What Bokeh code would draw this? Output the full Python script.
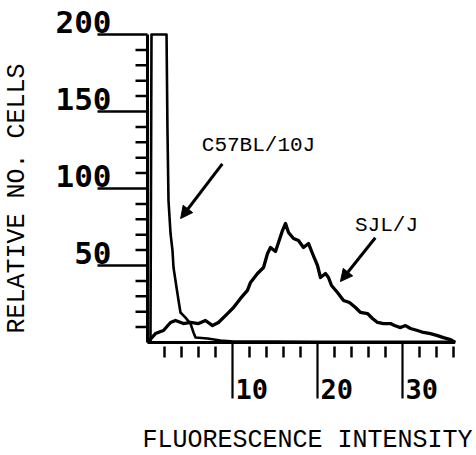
import math
from bokeh.plotting import figure
from bokeh.models import Arrow, NormalHead, Range1d
from bokeh.core.properties import value
from bokeh.embed import file_html
from bokeh.resources import INLINE

# ---- data ----
sjl_x = [0.0, 0.94, 1.88, 2.71, 3.29, 4.24, 5.06, 6.0, 6.82, 7.65, 8.35, 9.41, 10.12,
         10.94, 11.76, 12.12, 12.94, 13.65, 14.12, 14.47, 15.06, 15.41, 15.88, 16.24,
         16.59, 17.18, 17.76, 18.35, 18.94, 19.41, 20.0, 20.35, 20.94, 21.29, 21.65,
         22.35, 23.06, 23.76, 24.47, 25.06, 25.88, 26.47, 27.06, 27.76, 28.59, 29.06,
         29.76, 30.35, 30.94, 31.76, 32.47, 33.29, 34.12, 34.82, 35.65, 36.2]
sjl_y = [0.0, 5.8, 7.8, 13.0, 14.3, 12.3, 13.0, 12.3, 14.3, 11.0, 13.0, 18.8, 22.7,
         28.6, 33.8, 39.0, 44.8, 48.7, 57.8, 61.7, 59.1, 64.9, 72.7, 77.3,
         71.4, 67.5, 66.2, 61.7, 64.3, 57.8, 50.0, 42.2, 44.8, 42.2, 37.0,
         32.5, 27.3, 26.0, 22.7, 19.5, 18.8, 15.6, 13.0, 12.3, 12.3, 11.0,
         9.7, 11.0, 9.1, 7.8, 6.5, 5.8, 4.5, 3.2, 1.9, 0.0]

c57_x = [0.35, 0.47, 1.9, 2.24, 2.35, 2.47, 2.71, 2.94, 3.06, 3.29, 3.65, 3.88, 4.47,
         5.06, 5.41, 5.65, 7.06, 8.59, 10.1, 15.0, 20.0, 25.0, 30.0, 36.2]
c57_y = [0.0, 200.0, 200.0, 200.0, 137.7, 92.2, 70.8, 59.7, 48.7, 40.3, 27.3, 19.5, 16.2,
         12.3, 6.5, 3.2, 2.6, 1.3, 0.6, 0.6, 0.5, 0.5, 0.5, 0.5]

y_major = [50, 100, 150, 200]
y_minor = [10, 20, 30, 40, 60, 70, 80, 90, 110, 120, 130, 140, 160, 170, 180, 190]
y_labels = ["50", "100", "150", "200"]
x_major = [10, 20, 30]
x_minor = [2, 4, 6, 8, 12, 14, 16, 18, 22, 24, 26, 28, 32, 34, 36]
x_labels = ["10", "20", "30"]
x_max = 36.2
y_max = 200

x_title = "FLUORESCENCE INTENSITY"
y_title = "RELATIVE NO. CELLS"
series_names = ["C57BL/10J", "SJL/J"]

# ---- layout constants (pixels) ----
W, H = 476, 455
OX, OY = 147, 342      # pixel position of the data origin
SX, SY = 8.5, 1.54     # pixels per data unit


def dx(px):
    return (px - OX) / SX


def dy(py):
    return (OY - py) / SY


p = figure(width=W, height=H, output_backend="svg", toolbar_location=None,
           x_range=Range1d(dx(0), dx(W)), y_range=Range1d(dy(H), dy(0)),
           x_axis_type=None, y_axis_type=None, min_border=0)
p.outline_line_color = None
p.grid.visible = False
p.background_fill_color = "white"
p.border_fill_color = "white"

# axes lines
p.line([0, x_max], [0, 0], line_width=3, color="black")
p.line([0, 0], [0, y_max], line_width=3, color="black")

# ticks
p.segment(x0=[0] * len(y_major), y0=y_major, x1=[-50 / SX] * len(y_major), y1=y_major,
          line_width=2.5, color="black")
p.segment(x0=[0] * len(y_minor), y0=y_minor, x1=[-12 / SX] * len(y_minor), y1=y_minor,
          line_width=2.5, color="black")
p.segment(x0=x_major, y0=[0] * len(x_major), x1=x_major, y1=[-56 / SY] * len(x_major),
          line_width=2.2, color="black")
p.segment(x0=x_minor, y0=[-4 / SY] * len(x_minor), x1=x_minor,
          y1=[-15 / SY] * len(x_minor), line_width=2.5, color="black")

# curves
p.line(c57_x, c57_y, line_width=2.6, color="black", line_join="round")
p.line(sjl_x, sjl_y, line_width=3.3, color="black", line_join="round")

# tick labels
p.text(x=[dx(111)] * len(y_major), y=[v + 12.5 / SY for v in y_major], text=y_labels,
       text_align="right", text_baseline="middle", text_font_style="bold",
       text_font=value("DejaVu Sans Mono"), text_font_size="31px", text_color="black")
p.text(x=[v + 3 / SX for v in x_major], y=[dy(388)] * len(x_major), text=x_labels,
       text_align="left", text_baseline="middle", text_font_style="bold",
       text_font=value("DejaVu Sans Mono"), text_font_size="27px", text_color="black")

# axis titles
p.text(x=[dx(16.5)], y=[dy(198)], text=[y_title], angle=math.pi / 2,
       text_align="center", text_baseline="middle",
       text_font=value("Liberation Mono"), text_font_size="25px", text_color="black")
p.text(x=[dx(307)], y=[dy(440)], text=[x_title],
       text_align="center", text_baseline="middle",
       text_font=value("Liberation Mono"), text_font_size="25px", text_color="black")

# series annotations
p.text(x=[dx(258), dx(386)], y=[dy(145), dy(225)], text=series_names,
       text_align="center", text_baseline="middle",
       text_font=value("Liberation Mono"), text_font_size="21px", text_color="black")
p.add_layout(Arrow(x_start=8.8, y_start=116, x_end=3.9, y_end=80.5, line_width=3,
                   end=NormalHead(size=12, fill_color="black", line_color="black")))
p.add_layout(Arrow(x_start=26.8, y_start=68, x_end=22.7, y_end=39.6, line_width=3,
                   end=NormalHead(size=12, fill_color="black", line_color="black")))

open("out.html", "w").write(file_html(p, INLINE))
